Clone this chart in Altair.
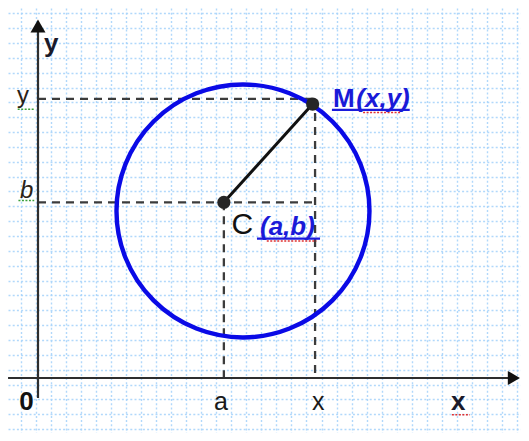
import altair as alt
import pandas as pd

# ---- coordinate frame (units of the squared paper) ----
X_DOMAIN = [-1.993, 32.093]
Y_DOMAIN = [-3.704, 24.916]
grid_x = [round(k - 0.16, 2) for k in range(-1, 33)]
grid_y = [round(24.56 - k, 2) for k in range(0, 29)]

# ---- geometry values ----
center_C = (12.35, 11.83)          # point C(a,b)
point_M = (18.25, 18.45)           # point M(x,y)
proj_x, proj_y = 18.41, 18.79      # where the dashed guides of M sit
circle_center = (13.62, 11.25)
circle_diameter_px = 253

x_axis = dict(u=-1.99, v=0.0, u2=31.3, v2=0.0)
y_axis = dict(u=0.0, v=-1.35, u2=0.0, v2=23.3)
arrow_heads = pd.DataFrame({"u": [31.62, 0.0], "v": [0.0, 23.70],
                            "shape": ["triangle-right", "triangle-up"],
                            "size": [196, 225]})

dashed = pd.DataFrame({
    "u":  [0.0, proj_x, 0.0, center_C[0]],
    "v":  [proj_y, proj_y, center_C[1], center_C[1]],
    "u2": [proj_x, proj_x, proj_x, center_C[0]],
    "v2": [proj_y, 0.0, center_C[1], 0.0],
})

W, H = 513, 425
xs = alt.Scale(domain=X_DOMAIN, nice=False, zero=False)
ys = alt.Scale(domain=Y_DOMAIN, nice=False, zero=False)
grid_style = dict(grid=True, labels=False, ticks=False, domain=False, title=None,
                  gridDash=[2, 2.2], gridColor="#a9d4fb", gridWidth=1.4, gridOpacity=0.9)
xaxis = alt.Axis(values=grid_x, **grid_style)
yaxis = alt.Axis(values=grid_y, **grid_style)


def X(f="u"):
    return alt.X(f"{f}:Q", scale=xs, axis=xaxis)


def Y(f="v"):
    return alt.Y(f"{f}:Q", scale=ys, axis=yaxis)


base = alt.Chart(pd.DataFrame([x_axis, y_axis]))

dash_layer = alt.Chart(dashed).mark_rule(color="#3c3c3c", strokeWidth=2.3, strokeDash=[8, 6]).encode(
    x=X(), y=Y(), x2="u2:Q", y2="v2:Q")

axes_layer = base.mark_rule(color="#2e2e2e", strokeWidth=2.2).encode(
    x=X(), y=Y(), x2="u2:Q", y2="v2:Q")

arrows_layer = alt.Chart(arrow_heads).mark_point(filled=True, color="#111", opacity=1).encode(
    x=X(), y=Y(), shape=alt.Shape("shape:N", scale=None), size=alt.Size("size:Q", scale=None))

circle_layer = alt.Chart(pd.DataFrame({"u": [circle_center[0]], "v": [circle_center[1]]})).mark_point(
    shape="circle", filled=False, stroke="#0a0ae6", strokeWidth=4.4, opacity=1,
    size=circle_diameter_px ** 2).encode(x=X(), y=Y())

radius_layer = alt.Chart(pd.DataFrame({"u": [center_C[0]], "v": [center_C[1]],
                                       "u2": [point_M[0]], "v2": [point_M[1]]})).mark_rule(
    color="#111", strokeWidth=3).encode(x=X(), y=Y(), x2="u2:Q", y2="v2:Q")

dots_layer = alt.Chart(pd.DataFrame({"u": [center_C[0], point_M[0]],
                                     "v": [center_C[1], point_M[1]]})).mark_point(
    shape="circle", filled=True, color="#262626", opacity=1, size=175).encode(x=X(), y=Y())

# underlines and spell-check squiggles
underline = pd.DataFrame({"u": [19.53, 14.55], "v": [18.05, 9.39],
                          "u2": [24.7, 18.74], "v2": [18.05, 9.39]})
underline_layer = alt.Chart(underline).mark_rule(color="#1a1add", strokeWidth=2.2).encode(
    x=X(), y=Y(), x2="u2:Q", y2="v2:Q")
red_sq = pd.DataFrame({"u": [21.6, 15.2, 27.5], "v": [17.88, 9.22, -2.48],
                       "u2": [24.1, 18.5, 28.7], "v2": [17.88, 9.22, -2.48]})
red_layer = alt.Chart(red_sq).mark_rule(color="#e03030", strokeWidth=1.5, strokeDash=[2, 1.5]).encode(
    x=X(), y=Y(), x2="u2:Q", y2="v2:Q")
green_sq = pd.DataFrame({"u": [-1.35, -1.3], "v": [18.1, 11.95],
                         "u2": [-0.25, -0.25], "v2": [18.1, 11.95]})
green_layer = alt.Chart(green_sq).mark_rule(color="#3aa03a", strokeWidth=1.5, strokeDash=[2, 1.5]).encode(
    x=X(), y=Y(), x2="u2:Q", y2="v2:Q")

# ---- text labels ----
labels = [
    # text, u, v, size, weight, style, color
    ("y", 0.4, 21.95, 26, "bold", "normal", "#1a1a2a"),
    ("y", -1.4, 18.55, 24, "normal", "normal", "#2a2218"),
    ("b", -1.2, 12.15, 24, "normal", "italic", "#2a2218"),
    ("0", -1.25, -2.15, 26, "bold", "normal", "#111111"),
    ("a", 11.7, -2.15, 25, "normal", "normal", "#1a1a1a"),
    ("x", 18.2, -2.15, 25, "normal", "normal", "#1a1a1a"),
    ("x", 27.45, -2.15, 26, "bold", "normal", "#1a1a2a"),
    ("M", 19.6, 18.25, 26, "bold", "normal", "#1a1ad8"),
    ("(x,y)", 21.15, 18.25, 26, "bold", "italic", "#1a1ad8"),
    ("C", 12.85, 9.72, 30, "normal", "normal", "#111111"),
    ("(a,b)", 14.75, 9.63, 26, "bold", "italic", "#1a1ad8"),
]
text_layers = []
for t, u, v, s, w, st, c in labels:
    text_layers.append(
        alt.Chart(pd.DataFrame({"u": [u], "v": [v], "t": [t]})).mark_text(
            align="left", baseline="alphabetic", font="Liberation Sans", fontSize=s,
            fontWeight=w, fontStyle=st, color=c).encode(x=X(), y=Y(), text="t:N"))

chart = alt.layer(dash_layer, axes_layer, arrows_layer, circle_layer, radius_layer, dots_layer,
                  underline_layer, red_layer, green_layer, *text_layers).properties(
    width=W, height=H, padding=0, autosize=alt.AutoSizeParams(type="none"),
    background="white").configure_view(stroke=None)

chart.save("out.html", embed_options={"renderer": "svg", "actions": False})
